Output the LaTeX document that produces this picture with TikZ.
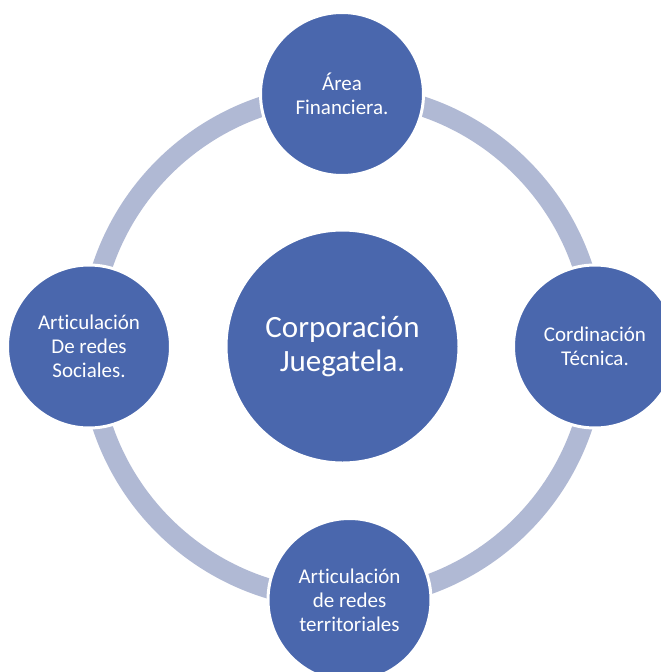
\documentclass[tikz,border=0pt]{standalone}
\usepackage{fontspec}
\setmainfont{Carlito}[Ligatures={NoCommon,NoRare,NoContextual}]
\definecolor{nodeblue}{RGB}{74,103,173}
\definecolor{ringblue}{RGB}{176,185,212}
\tikzset{
  hub/.style={circle,fill=nodeblue,draw=white,line width=2pt,minimum size=232pt,
    inner sep=0pt,text=white,align=center,font=\fontsize{31}{34}\selectfont},
  sat/.style={circle,fill=nodeblue,draw=white,line width=3pt,minimum size=163pt,
    inner sep=0pt,text=white,align=center,font=\fontsize{21}{24}\selectfont},
  ring/.style={draw=ringblue,line width=20pt}
}
\begin{document}
\begin{tikzpicture}[x=1pt,y=-1pt]
\clip (0,0) rectangle (661,672);
\fill[white] (0,0) rectangle (661,672);

% ring behind the circles
\coordinate (ctr) at (342.5,346.5);
\draw[ring] (ctr) circle[radius=253];

\node[hub] (corp) at (ctr) {Corporación\\Juegatela.};

\node[sat] (fin) at (342,94) {Área\\Financiera.};
\node[sat] (tec) at (595,346.5) {Cordinación\\Técnica.};
\node[sat] (terr) at (349.5,600) {Articulación\\de redes\\territoriales};
\node[sat] (soc) at (89,346.5) {Articulación\\De redes\\Sociales.};
\end{tikzpicture}
\end{document}
